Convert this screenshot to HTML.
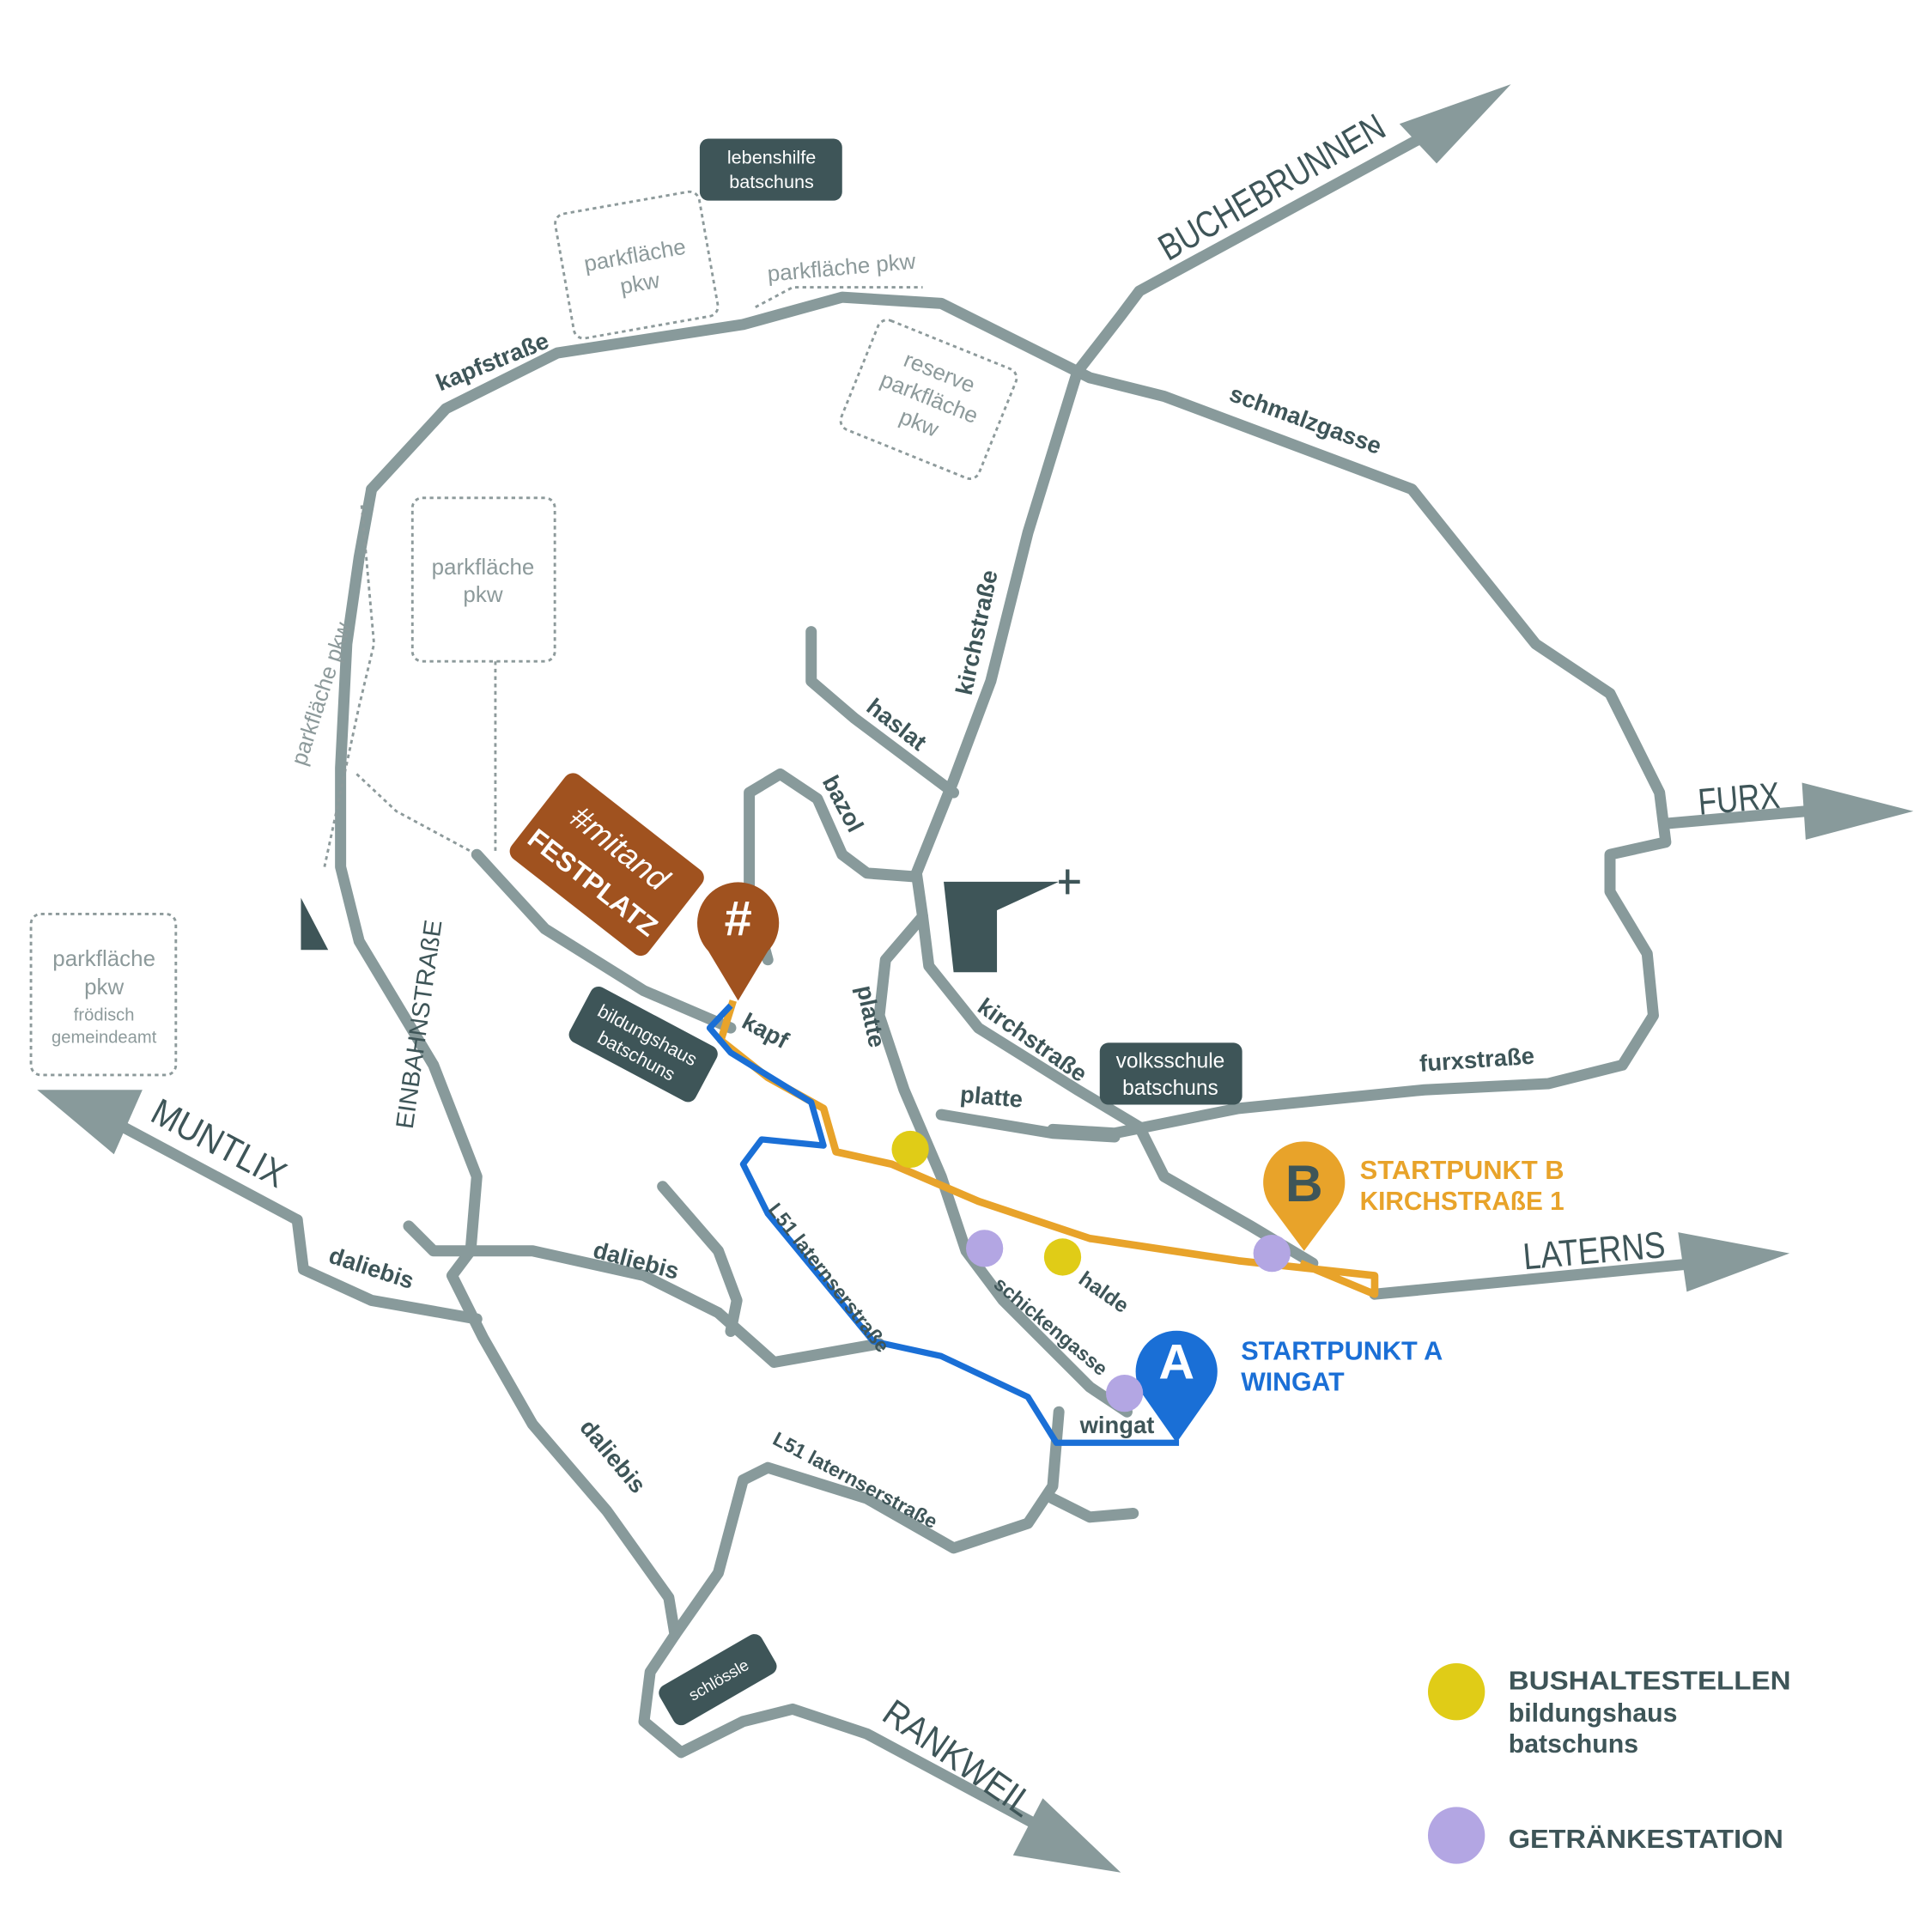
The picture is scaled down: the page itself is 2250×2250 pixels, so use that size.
<!DOCTYPE html>
<html><head><meta charset="utf-8"><style>
html,body{margin:0;padding:0;background:#fff;}
svg{display:block}
text{font-family:"Liberation Sans","DejaVu Sans",sans-serif;}
</style></head><body>
<svg width="2250" height="2250" viewBox="0 0 1560 1560" xmlns="http://www.w3.org/2000/svg">
<rect width="1560" height="1560" fill="#fff"/>
<g fill="none" stroke="#889a9b" stroke-width="9" stroke-linejoin="round" stroke-linecap="round">
<polyline points="740,705 770,630 800,550 830,430 870,300 905,255 920,235 1150,110"/>
<polyline points="300,395 360,330 450,285 600,262 680,240 760,245 880,305 940,320 1140,395 1240,520 1300,560 1340,640 1345,680 1300,690 1300,720 1330,770 1335,820 1310,860 1250,875 1150,880 1000,895 900,915 850,912"/>
<polyline points="1345,665 1470,654"/>
<polyline points="300,395 290,450 280,520 275,620 275,700 290,760 350,860 385,950 380,1010 365,1030 390,1080 430,1150 490,1220 540,1290 545,1320 525,1350 520,1390 550,1415 600,1390 640,1380 700,1400 840,1475"/>
<polyline points="240,985 90,905"/>
<polyline points="240,985 245,1025 300,1050 385,1065"/>
<polyline points="330,990 350,1010 380,1010 430,1010 520,1030 580,1060 625,1100 710,1085"/>
<polyline points="535,958 580,1010 595,1050 590,1075"/>
<polyline points="545,1320 580,1270 600,1195 620,1185 700,1210 770,1250 830,1230 850,1200 855,1140"/>
<polyline points="850,1210 880,1225 915,1222"/>
<polyline points="740,705 745,740 715,775 710,820 730,880 760,950 780,1010 810,1050 850,1090 880,1120 910,1140"/>
<polyline points="745,740 750,780 790,830 870,880 920,910 940,950 1010,990 1060,1020"/>
<polyline points="760,900 850,915 900,918"/>
<polyline points="1110,1045 1370,1020"/>
<polyline points="655,510 655,550 690,580 770,640"/>
<polyline points="620,775 605,720 605,640 630,625 660,645 680,690 700,705 740,708"/>
<polyline points="385,690 440,750 520,800 590,830"/>
</g>
<g fill="#889a9b">
<polygon points="1220,68 1130,100 1160,132"/>
<polygon points="1545,655 1455,632 1458,678"/>
<polygon points="30,880 115,880 92,932"/>
<polygon points="1445,1012 1355,995 1362,1043"/>
<polygon points="905,1512 818,1498 842,1452"/>
</g>
<polygon points="243,725 243,767 265,767" fill="#3e5558"/>
<g fill="none" stroke="#e8a32a" stroke-width="6" stroke-linejoin="round">
<polyline points="592,808 582,840 620,870 665,895 675,930 720,940 790,970 880,1000 1000,1018 1110,1030 1110,1045 1050,1020"/>
</g>
<g fill="none" stroke="#1a6fd6" stroke-width="5" stroke-linejoin="round">
<polyline points="590,812 573,830 590,850 655,890 665,925 615,920 600,940 620,980 705,1083 760,1095 830,1128 853,1165 952,1165"/>
</g>
<g fill="none" stroke="#8d9a9b" stroke-width="2" stroke-dasharray="3,3">
<rect x="333" y="402" width="115" height="132" rx="8"/>
<rect x="25" y="738" width="117" height="130" rx="8"/>
<rect x="455" y="163" width="118" height="102" rx="8" transform="rotate(-10 514 214)"/>
<rect x="690" y="275" width="120" height="95" rx="8" transform="rotate(22 750 322)"/>
<polyline points="400,534 400,690"/>
<polyline points="288,625 320,655 385,690"/>
<polyline points="292,408 302,520 290,570 262,700"/>
<polyline points="610,248 640,232 745,232"/>
</g>
<g fill="#8d9a9b" font-size="18" text-anchor="middle">
<text x="390" y="464">parkfläche</text><text x="390" y="486">pkw</text>
<text x="84" y="780">parkfläche</text><text x="84" y="803">pkw</text>
<text x="84" y="824" font-size="14">frödisch</text><text x="84" y="842" font-size="14">gemeindeamt</text>
<g transform="rotate(-10 514 214)"><text x="514" y="212">parkfläche</text><text x="514" y="235">pkw</text></g>
<g transform="rotate(22 750 322)"><text x="750" y="305">reserve</text><text x="750" y="327">parkfläche</text><text x="750" y="349">pkw</text></g>
<text x="680" y="222" transform="rotate(-5 680 222)">parkfläche pkw</text>
<text x="265" y="562" transform="rotate(-72 265 562)">parkfläche pkw</text>
</g>
<g fill="#3e5558" font-weight="bold" font-size="19">
<text x="400" y="298" transform="rotate(-22 400 298)" text-anchor="middle">kapfstraße</text>
<text x="1052" y="345" transform="rotate(20 1052 345)" text-anchor="middle">schmalzgasse</text>
<text x="795" y="512" transform="rotate(-78 795 512)" text-anchor="middle">kirchstraße</text>
<text x="720" y="590" transform="rotate(38 720 590)" text-anchor="middle">haslat</text>
<text x="675" y="652" transform="rotate(62 675 652)" text-anchor="middle">bazol</text>
<text x="697" y="822" transform="rotate(78 697 822)" text-anchor="middle">platte</text>
<text x="830" y="845" transform="rotate(35 830 845)" text-anchor="middle">kirchstraße</text>
<text x="800" y="892" transform="rotate(5 800 892)" text-anchor="middle">platte</text>
<text x="1193" y="862" transform="rotate(-4 1193 862)" text-anchor="middle">furxstraße</text>
<text x="615" y="838" transform="rotate(28 615 838)" text-anchor="middle">kapf</text>
<text x="888" y="1048" transform="rotate(35 888 1048)" text-anchor="middle" font-size="17">halde</text>
<text x="845" y="1075" transform="rotate(40 845 1075)" text-anchor="middle" font-size="16">schickengasse</text>
<text x="902" y="1157" text-anchor="middle">wingat</text>
<text x="512" y="1024" transform="rotate(15 512 1024)" text-anchor="middle">daliebis</text>
<text x="298" y="1030" transform="rotate(18 298 1030)" text-anchor="middle">daliebis</text>
<text x="490" y="1180" transform="rotate(50 490 1180)" text-anchor="middle">daliebis</text>
<text x="665" y="1035" transform="rotate(52 665 1035)" text-anchor="middle" font-size="16">L51 laternserstraße</text>
<text x="688" y="1200" transform="rotate(28 688 1200)" text-anchor="middle" font-size="16">L51 laternserstraße</text>
</g>
<g fill="#3e5558" font-size="30">
<text x="1032" y="160" transform="rotate(-30 1032 160)" text-anchor="middle" textLength="205" lengthAdjust="spacingAndGlyphs">BUCHEBRUNNEN</text>
<text x="1405" y="655" transform="rotate(-5 1405 655)" text-anchor="middle" textLength="66" lengthAdjust="spacingAndGlyphs">FURX</text>
<text x="1288" y="1020" transform="rotate(-5 1288 1020)" text-anchor="middle" textLength="115" lengthAdjust="spacingAndGlyphs">LATERNS</text>
<text x="172" y="932" transform="rotate(28 172 932)" text-anchor="middle" textLength="118" lengthAdjust="spacingAndGlyphs">MUNTLIX</text>
<text x="768" y="1428" transform="rotate(35 768 1428)" text-anchor="middle" textLength="140" lengthAdjust="spacingAndGlyphs">RANKWEIL</text>
<text x="345" y="828" transform="rotate(-82 345 828)" text-anchor="middle" font-size="20" textLength="170" lengthAdjust="spacingAndGlyphs">EINBAHNSTRAßE</text>
</g>
<g fill="#3e5558">
<rect x="565" y="112" width="115" height="50" rx="7"/>
<rect x="888" y="842" width="115" height="50" rx="7"/>
<rect x="462" y="818" width="115" height="50" rx="7" transform="rotate(28 519 843)"/>
<rect x="532" y="1338" width="95" height="36" rx="7" transform="rotate(-30 580 1356)"/>
<path d="M762,712 L855,712 L805,735 L805,785 L770,785 Z"/>
</g>
<path d="M855,712 H872 M862,702 V722" stroke="#3e5558" stroke-width="3"/>
<g fill="#fff" font-size="15" text-anchor="middle">
<text x="623" y="132">lebenshilfe</text><text x="623" y="152">batschuns</text>
<text x="945" y="862" font-size="17">volksschule</text><text x="945" y="884" font-size="17">batschuns</text>
<g transform="rotate(28 519 843)"><text x="519" y="840">bildungshaus</text><text x="519" y="859">batschuns</text></g>
<text x="580" y="1361" transform="rotate(-30 580 1356)" font-size="13">schlössle</text>
</g>
<g transform="rotate(38 490 698)">
<rect x="420" y="655" width="140" height="86" rx="8" fill="#a0521f"/>
<text x="490" y="690" fill="#fff" font-size="26" font-style="italic" text-anchor="middle" font-family="Liberation Serif,serif">#mitand</text>
<text x="490" y="724" fill="#fff" font-size="22" font-weight="bold" text-anchor="middle">FESTPLATZ</text>
</g>
<path d="M596,808 L572,768 A33,33 0 1 1 620,768 Z" fill="#a0521f"/>
<text x="596" y="755" fill="#fff" font-size="40" font-weight="bold" text-anchor="middle">#</text>
<path d="M1053,1010 L1027,975 A33,33 0 1 1 1079,975 Z" fill="#e8a32a"/>
<text x="1053" y="970" fill="#3e5558" font-size="42" font-weight="bold" text-anchor="middle">B</text>
<path d="M950,1165 L922,1125 A33,33 0 1 1 978,1125 Z" fill="#1a6fd6"/>
<text x="950" y="1113" fill="#fff" font-size="40" font-weight="bold" text-anchor="middle">A</text>
<g font-weight="bold" font-size="21">
<text x="1098" y="952" fill="#e8a32a" textLength="165" lengthAdjust="spacingAndGlyphs">STARTPUNKT B</text>
<text x="1098" y="977" fill="#e8a32a" textLength="165" lengthAdjust="spacingAndGlyphs">KIRCHSTRAßE 1</text>
<text x="1002" y="1098" fill="#1a6fd6" textLength="163" lengthAdjust="spacingAndGlyphs">STARTPUNKT A</text>
<text x="1002" y="1123" fill="#1a6fd6">WINGAT</text>
</g>
<g fill="#e0cc17"><circle cx="735" cy="928" r="15"/><circle cx="858" cy="1015" r="15"/><circle cx="1176" cy="1366" r="23"/></g>
<g fill="#b3a6e3"><circle cx="795" cy="1008" r="15"/><circle cx="1027" cy="1012" r="15"/><circle cx="908" cy="1125" r="15"/><circle cx="1176" cy="1482" r="23"/></g>
<g fill="#3e5558" font-weight="bold" font-size="21">
<text x="1218" y="1364" textLength="228" lengthAdjust="spacingAndGlyphs">BUSHALTESTELLEN</text>
<text x="1218" y="1390">bildungshaus</text>
<text x="1218" y="1415">batschuns</text>
<text x="1218" y="1492" textLength="222" lengthAdjust="spacingAndGlyphs">GETRÄNKESTATION</text>
</g>
</svg>
</body></html>
